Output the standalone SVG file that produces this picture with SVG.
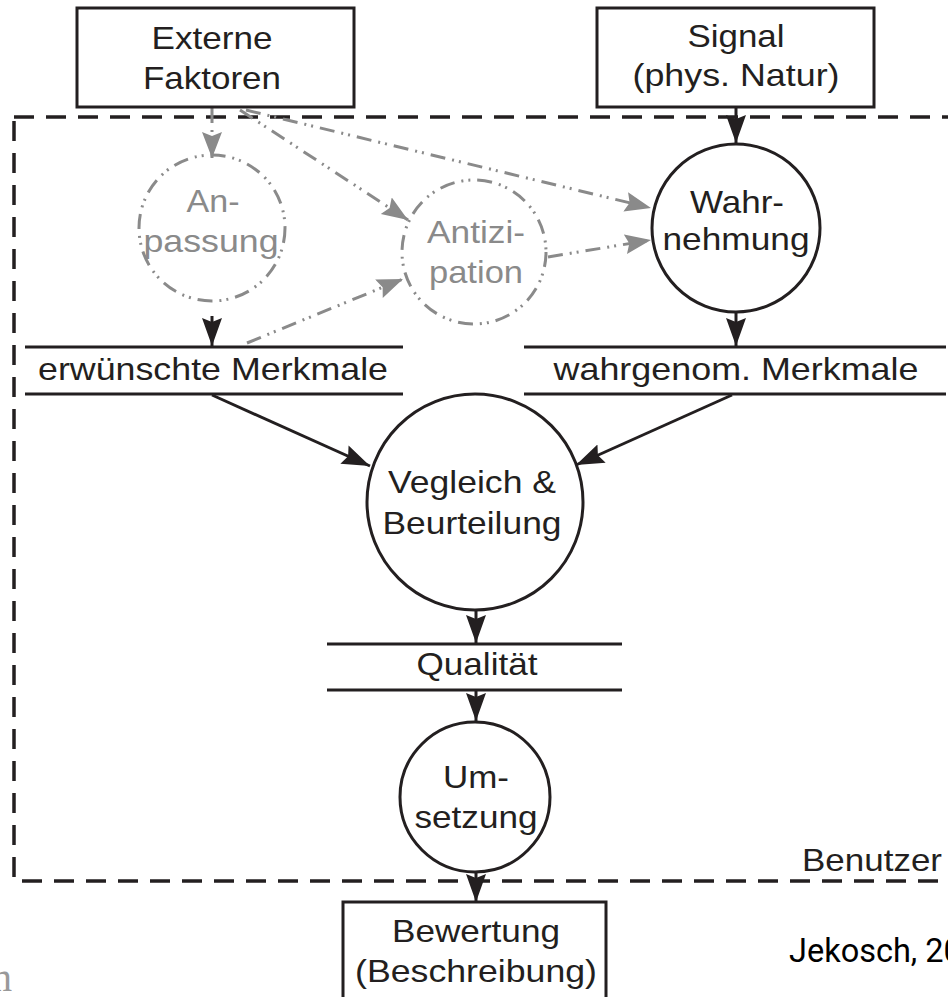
<svg xmlns="http://www.w3.org/2000/svg" width="948" height="997" viewBox="0 0 948 997">
<style>
text{font-family:"Liberation Sans",Arial,sans-serif;font-size:32px;fill:#231f20;text-anchor:middle}
text.g{fill:#8a8a8a}
.box{fill:#fff;stroke:#231f20;stroke-width:3}
.node{fill:#fff;stroke:#231f20;stroke-width:3}
.gnode{fill:none;stroke:#8a8a8a;stroke-width:3;stroke-dasharray:15 7 2 5 2 7}
.store{stroke:#231f20;stroke-width:3}
.frame{fill:none;stroke:#231f20;stroke-width:3.5;stroke-dasharray:20 12}
.bl{stroke:#231f20;stroke-width:3;fill:none;marker-end:url(#ab)}
.gl{stroke:#8a8a8a;stroke-width:3;fill:none;stroke-dasharray:15 7 2 5 2 7;marker-end:url(#ag)}
</style>
<defs>
<marker id="ab" markerUnits="userSpaceOnUse" markerWidth="30" markerHeight="22" refX="28" refY="10" orient="auto">
<path d="M0,0 L28,10 L0,20 L4,10 z" fill="#231f20"/>
</marker>
<marker id="ag" markerUnits="userSpaceOnUse" markerWidth="30" markerHeight="22" refX="26" refY="10" orient="auto">
<path d="M0,0 L26,10 L0,20 L4,10 z" fill="#8a8a8a"/>
</marker>
</defs>
<rect width="948" height="997" fill="#fff"/>

<g id="frame">
<rect class="frame" x="14" y="117" width="960" height="764"/>
<text x="872" y="871" textLength="140" lengthAdjust="spacingAndGlyphs">Benutzer</text>
</g>

<g id="connectors">
<path class="gl" d="M212,108 L212,158"/>
<path class="gl" d="M240,110 L408,220"/>
<path class="gl" d="M246,110 L651,208"/>
<path class="gl" d="M247,343 L403,279"/>
<path class="gl" d="M548,257 L651,240"/>
<path class="bl" d="M736,108 L736,143"/>
<path class="bl" d="M212,316 L212,346"/>
<path class="bl" d="M736,312 L736,346"/>
<path class="bl" d="M212,395 L370,466"/>
<path class="bl" d="M732,395 L576,465"/>
<path class="bl" d="M476,610 L476,643"/>
<path class="bl" d="M476,691 L476,721"/>
<path class="bl" d="M476,872 L476,902"/>
</g>

<g id="externe">
<rect class="box" x="77" y="8" width="277" height="99"/>
<text x="212" y="49" textLength="121" lengthAdjust="spacingAndGlyphs">Externe</text>
<text x="212" y="89" textLength="138" lengthAdjust="spacingAndGlyphs">Faktoren</text>
</g>

<g id="signal">
<rect class="box" x="597" y="8" width="277" height="99"/>
<text x="736" y="47" textLength="97" lengthAdjust="spacingAndGlyphs">Signal</text>
<text x="736" y="86" textLength="207" lengthAdjust="spacingAndGlyphs">(phys. Natur)</text>
</g>

<g id="anpassung">
<circle class="gnode" cx="212" cy="228" r="73"/>
<text class="g" x="213" y="212" textLength="53" lengthAdjust="spacingAndGlyphs">An-</text>
<text class="g" x="211" y="252" textLength="135" lengthAdjust="spacingAndGlyphs">passung</text>
</g>

<g id="antizipation">
<circle class="gnode" cx="474" cy="252" r="72"/>
<text class="g" x="476" y="243" textLength="98" lengthAdjust="spacingAndGlyphs">Antizi-</text>
<text class="g" x="476" y="283" textLength="94" lengthAdjust="spacingAndGlyphs">pation</text>
</g>

<g id="wahrnehmung">
<circle class="node" cx="736" cy="228" r="84"/>
<text x="737" y="213" textLength="94" lengthAdjust="spacingAndGlyphs">Wahr-</text>
<text x="736" y="250" textLength="147" lengthAdjust="spacingAndGlyphs">nehmung</text>
</g>

<g id="erwuenscht">
<line class="store" x1="25" y1="347" x2="403" y2="347"/>
<line class="store" x1="25" y1="394" x2="403" y2="394"/>
<text x="213" y="380" textLength="350" lengthAdjust="spacingAndGlyphs">erwünschte Merkmale</text>
</g>

<g id="wahrgenom">
<line class="store" x1="524" y1="347" x2="946" y2="347"/>
<line class="store" x1="524" y1="394" x2="946" y2="394"/>
<text x="736" y="380" textLength="365" lengthAdjust="spacingAndGlyphs">wahrgenom. Merkmale</text>
</g>

<g id="vergleich">
<circle class="node" cx="475" cy="502" r="108"/>
<text x="472" y="493" textLength="168" lengthAdjust="spacingAndGlyphs">Vegleich &amp;</text>
<text x="472" y="534" textLength="179" lengthAdjust="spacingAndGlyphs">Beurteilung</text>
</g>

<g id="qualitaet">
<line class="store" x1="327" y1="644" x2="622" y2="644"/>
<line class="store" x1="327" y1="690" x2="622" y2="690"/>
<text x="477" y="675" textLength="121" lengthAdjust="spacingAndGlyphs">Qualität</text>
</g>

<g id="umsetzung">
<circle class="node" cx="475" cy="797" r="75"/>
<text x="476" y="788" textLength="66" lengthAdjust="spacingAndGlyphs">Um-</text>
<text x="476" y="828" textLength="123" lengthAdjust="spacingAndGlyphs">setzung</text>
</g>

<g id="bewertung">
<rect class="box" x="343" y="902" width="263" height="110"/>
<text x="476" y="942" textLength="168" lengthAdjust="spacingAndGlyphs">Bewertung</text>
<text x="476" y="982" textLength="242" lengthAdjust="spacingAndGlyphs">(Beschreibung)</text>
</g>

<g id="source">
<text x="789" y="962" style="font-family:Roboto,'Liberation Sans',sans-serif;font-size:32.5px;fill:#000;text-anchor:start">Jekosch, 20</text>
</g>
<text x="-19" y="991" style="font-family:'Liberation Serif',serif;font-size:40px;fill:#999;text-anchor:start">m</text>
</svg>
